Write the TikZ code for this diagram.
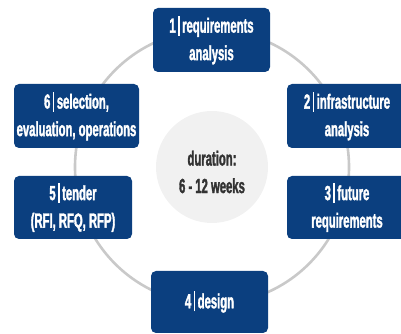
\documentclass[tikz,border=0pt]{standalone}
\usepackage{fontspec}
\setmainfont[FakeStretch=0.55,BoldFont={Liberation Sans Bold},BoldFeatures={FakeStretch=0.55,FakeBold=1.5}]{Liberation Sans}
\usepackage{xcolor}
\definecolor{stepblue}{HTML}{0B3F7F}
\definecolor{ringgray}{HTML}{C9C9C9}
\definecolor{hubgray}{HTML}{F1F1F1}
\definecolor{hubtext}{HTML}{333333}
\newcommand{\stepsep}{\hspace{2.5pt}\rule[-3pt]{1.5pt}{20pt}\hspace{2.5pt}}
\tikzset{
  phase/.style={draw=none, fill=stepblue, rounded corners=5pt, text=white,
    font=\bfseries\fontsize{20.5}{27.5}\selectfont, align=center, inner sep=0pt},
}

\begin{document}
\begin{tikzpicture}[x=1pt,y=1pt]
        \clip (0,0) rectangle (401,334);
        \useasboundingbox (0,0) rectangle (401,334);
        \coordinate (O) at (212,167);
        \draw[ringgray, line width=2.6pt] (O) circle (137);
        \fill[hubgray] (O) circle (56);
        \node[text=hubtext, font=\bfseries\fontsize{20.5}{27.5}\selectfont, align=center] (hub) at (212,162) {duration:\\6 - 12 weeks};
        \node[phase, minimum width=117pt, minimum height=64pt] (p1) at (211.5,294) {1\stepsep requirements\\analysis};
        \node[phase, minimum width=120pt, minimum height=64pt] (p2) at (347,218) {2\stepsep infrastructure\\analysis};
        \node[phase, minimum width=120pt, minimum height=63pt] (p3) at (347,126.5) {3\stepsep future\\requirements};
        \node[phase, minimum width=117pt, minimum height=62pt] (p4) at (209.5,32) {4\stepsep design};
        \node[phase, minimum width=118pt, minimum height=63pt] (p5) at (73,126.5) {5\stepsep tender\\(RFI, RFQ, RFP)};
        \node[phase, minimum width=125pt, minimum height=64pt] (p6) at (76.5,218) {6\stepsep selection,\\evaluation, operations};
    \end{tikzpicture}
\end{document}
